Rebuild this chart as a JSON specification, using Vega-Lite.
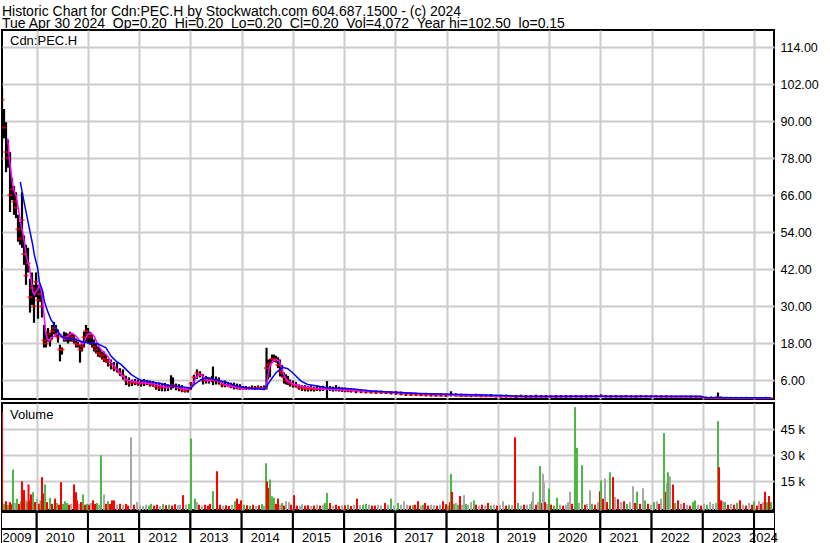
{
  "$schema": "https://vega.github.io/schema/vega-lite/v6.json",
  "background": "white",
  "padding": {"left": 1, "top": 4, "right": 0, "bottom": 0},
  "title": {
    "text": ["Historic Chart for Cdn:PEC.H by Stockwatch.com 604.687.1500 - (c) 2024", "Tue Apr 30 2024 \u00a0Op=0.20 \u00a0Hi=0.20 \u00a0Lo=0.20 \u00a0Cl=0.20 \u00a0Vol=4,072 \u00a0Year hi=102.50 \u00a0lo=0.15"],
    "anchor": "start", "fontSize": 14, "fontWeight": "normal", "lineHeight": 12.5, "offset": -2, "color": "#000", "dx": 1
  },
  "spacing": 2,
  "config": {
    "font": "Liberation Sans",
    "view": {"stroke": "#000", "strokeWidth": 2},
    "axis": {"gridColor": "#cccccc", "gridWidth": 2, "domain": false, "ticks": false, "labelColor": "#000", "labelFontSize": 12.5, "labelFont": "Liberation Sans", "labelOverlap": false}
  },
  "vconcat": [
    {
      "width": 772, "height": 369,
      "layer": [
        {
          "data": {"name": "price"},
          "mark": {"type": "rule", "color": "#000", "strokeWidth": 2.2, "clip": true},
          "encoding": {
            "x": {"field": "t", "type": "quantitative", "scale": {"domain": [2009.3225, 2024.389], "nice": false, "zero": false},
                  "axis": {"values": [2010,2011,2012,2013,2014,2015,2016,2017,2018,2019,2020,2021,2022,2023,2024], "grid": true, "labels": false, "title": null, "minExtent": 0, "maxExtent": 0}},
            "y": {"field": "l", "type": "quantitative", "scale": {"domain": [0, 119.6], "nice": false, "zero": false},
                  "axis": {"orient": "right", "values": [6,12,18,24,30,36,42,48,54,60,66,72,78,84,90,96,102,108,114], "format": ".2f", "grid": true, "labelPadding": 6, "title": null}},
            "y2": {"field": "h"}
          }
        },
        {
          "data": {"name": "price"},
          "mark": {"type": "tick", "orient": "horizontal", "color": "#ff0000", "thickness": 2, "size": 5, "clip": true},
          "encoding": {
            "x": {"field": "t", "type": "quantitative"},
            "y": {"field": "c", "type": "quantitative"}
          }
        },
        {
          "data": {"name": "maShort"},
          "mark": {"type": "line", "color": "#ff00ff", "strokeWidth": 1.5, "clip": true},
          "encoding": {
            "x": {"field": "t", "type": "quantitative"},
            "y": {"field": "v", "type": "quantitative"}
          }
        },
        {
          "data": {"name": "maLong"},
          "mark": {"type": "line", "color": "#0000ff", "strokeWidth": 1.5, "clip": true},
          "encoding": {
            "x": {"field": "t", "type": "quantitative"},
            "y": {"field": "v", "type": "quantitative"}
          }
        },
        {
          "data": {"values": [{"label": "Cdn:PEC.H"}]},
          "mark": {"type": "text", "align": "left", "baseline": "alphabetic", "fontSize": 13, "color": "#000", "dx": 8, "dy": 15},
          "encoding": {
            "x": {"datum": 2009.3225, "type": "quantitative"},
            "y": {"datum": 119.6, "type": "quantitative"},
            "text": {"field": "label"}
          }
        }
      ]
    },
    {
      "spacing": 0,
      "vconcat": [
        {
          "width": 772, "height": 107,
          "layer": [
            {
              "data": {"name": "vol"},
              "mark": {"type": "rule", "strokeWidth": 2, "clip": true},
              "encoding": {
                "x": {"field": "t", "type": "quantitative", "scale": {"domain": [2009.3225, 2024.389], "nice": false, "zero": false},
                      "axis": {"values": [2010,2011,2012,2013,2014,2015,2016,2017,2018,2019,2020,2021,2022,2023,2024], "grid": true, "labels": false, "title": null, "minExtent": 0, "maxExtent": 0}},
                "y": {"field": "v", "type": "quantitative", "scale": {"domain": [-1560, 60170], "nice": false, "zero": false},
                      "axis": {"orient": "right", "values": [15000, 30000, 45000], "labelExpr": "(datum.value/1000) + ' k'", "grid": true, "labelPadding": 6, "title": null, "labelFontSize": 13}},
                "y2": {"datum": -1560},
                "color": {"field": "c", "type": "nominal", "scale": {"domain": ["up", "dn", "un"], "range": ["#4cb848", "#ff0000", "#a8a8a8"]}, "legend": null}
              }
            },
            {
              "data": {"values": [{"label": "Volume"}]},
              "mark": {"type": "text", "align": "left", "baseline": "alphabetic", "fontSize": 13, "color": "#000", "dx": 8, "dy": 16},
              "encoding": {
                "x": {"datum": 2009.3225, "type": "quantitative"},
                "y": {"datum": 60170, "type": "quantitative"},
                "text": {"field": "label"}
              }
            }
          ]
        },
        {
          "width": 772, "height": 33,
          "data": {"name": "years"},
          "layer": [
            {
              "mark": {"type": "rect", "fill": "white", "stroke": "#000", "strokeWidth": 2, "clip": true},
              "encoding": {
                "x": {"field": "s", "type": "quantitative", "scale": {"domain": [2009.3225, 2024.389], "nice": false, "zero": false}, "axis": null},
                "x2": {"field": "e"},
                "y": {"datum": 16, "type": "quantitative", "scale": {"domain": [0, 33], "nice": false, "zero": false}, "axis": null},
                "y2": {"datum": 33}
              }
            },
            {
              "mark": {"type": "rect", "fill": "white", "stroke": "#000", "strokeWidth": 2, "clip": true},
              "encoding": {
                "x": {"field": "s", "type": "quantitative"},
                "x2": {"field": "e"},
                "y": {"datum": 0, "type": "quantitative"},
                "y2": {"datum": 16}
              }
            },
            {
              "mark": {"type": "text", "fontSize": 13, "color": "#000", "align": "center", "baseline": "middle"},
              "encoding": {
                "x": {"field": "m", "type": "quantitative"},
                "y": {"datum": 7.5, "type": "quantitative"},
                "text": {"field": "yr"}
              }
            }
          ]
        }
      ]
    }
  ],
  "datasets": {
    "years": [
      {"yr": "2009", "s": 2009, "e": 2010, "m": 2009.615},
      {"yr": "2010", "s": 2010, "e": 2011, "m": 2010.46},
      {"yr": "2011", "s": 2011, "e": 2012, "m": 2011.46},
      {"yr": "2012", "s": 2012, "e": 2013, "m": 2012.46},
      {"yr": "2013", "s": 2013, "e": 2014, "m": 2013.46},
      {"yr": "2014", "s": 2014, "e": 2015, "m": 2014.46},
      {"yr": "2015", "s": 2015, "e": 2016, "m": 2015.46},
      {"yr": "2016", "s": 2016, "e": 2017, "m": 2016.46},
      {"yr": "2017", "s": 2017, "e": 2018, "m": 2017.46},
      {"yr": "2018", "s": 2018, "e": 2019, "m": 2018.46},
      {"yr": "2019", "s": 2019, "e": 2020, "m": 2019.46},
      {"yr": "2020", "s": 2020, "e": 2021, "m": 2020.46},
      {"yr": "2021", "s": 2021, "e": 2022, "m": 2021.46},
      {"yr": "2022", "s": 2022, "e": 2023, "m": 2022.46},
      {"yr": "2023", "s": 2023, "e": 2024, "m": 2023.46},
      {"yr": "2024", "s": 2024, "e": 2025, "m": 2024.184}
    ],
    "price": [
      {"t":2009.323,"h":101,"l":83,"c":97},{"t":2009.362,"h":94,"l":84.5,"c":88},{"t":2009.401,"h":89.7,"l":73.5,"c":80},{"t":2009.440,"h":84,"l":75,"c":78},
      {"t":2009.479,"h":80,"l":60.6,"c":66},{"t":2009.518,"h":71.6,"l":64.5,"c":68},{"t":2009.557,"h":69,"l":59.7,"c":64},{"t":2009.596,"h":67,"l":58.6,"c":62},
      {"t":2009.635,"h":59.7,"l":51,"c":55},{"t":2009.674,"h":57.4,"l":50,"c":52},{"t":2009.713,"h":67,"l":49,"c":58},{"t":2009.752,"h":53,"l":43.5,"c":47},
      {"t":2009.791,"h":50,"l":37,"c":40},{"t":2009.830,"h":49,"l":41,"c":44},{"t":2009.869,"h":39,"l":28,"c":33},{"t":2009.908,"h":41,"l":30.5,"c":36},
      {"t":2009.947,"h":37,"l":24.7,"c":30},{"t":2009.986,"h":41,"l":33,"c":38},{"t":2010.025,"h":37,"l":26,"c":32},{"t":2010.064,"h":36,"l":31.5,"c":34},
      {"t":2010.103,"h":35,"l":26.4,"c":30},{"t":2010.142,"h":24,"l":16.7,"c":19},{"t":2010.181,"h":21.8,"l":16.7,"c":18},{"t":2010.220,"h":23,"l":18.6,"c":21},
      {"t":2010.259,"h":21.5,"l":17,"c":19},{"t":2010.298,"h":24,"l":19.3,"c":22},{"t":2010.337,"h":25,"l":21,"c":23},{"t":2010.376,"h":24,"l":20.2,"c":21},
      {"t":2010.415,"h":22.5,"l":18.3,"c":20},{"t":2010.454,"h":17.6,"l":12.2,"c":16},{"t":2010.493,"h":16.7,"l":14.4,"c":16},{"t":2010.532,"h":21.8,"l":18.6,"c":20},
      {"t":2010.571,"h":21.5,"l":18.6,"c":20},{"t":2010.611,"h":21.2,"l":18,"c":19.5},{"t":2010.650,"h":21.8,"l":18.6,"c":21},{"t":2010.689,"h":21.2,"l":18.6,"c":20},
      {"t":2010.728,"h":20.9,"l":18,"c":19},{"t":2010.767,"h":19.6,"l":16.7,"c":18},{"t":2010.806,"h":18.6,"l":16.7,"c":17.5},{"t":2010.845,"h":17.6,"l":11.8,"c":16},
      {"t":2010.884,"h":18.6,"l":15.4,"c":17},{"t":2010.923,"h":21.8,"l":16.7,"c":20},{"t":2010.962,"h":24,"l":18.6,"c":22},{"t":2011.001,"h":23,"l":18,"c":21},
      {"t":2011.040,"h":21.8,"l":17.6,"c":20},{"t":2011.079,"h":21,"l":16.7,"c":18},{"t":2011.118,"h":19.3,"l":15.4,"c":17},{"t":2011.157,"h":18,"l":14.8,"c":16},
      {"t":2011.196,"h":17,"l":13.7,"c":15},{"t":2011.235,"h":16.5,"l":13.5,"c":14.5},{"t":2011.274,"h":15.4,"l":12.8,"c":14},{"t":2011.313,"h":15.4,"l":12,"c":13},
      {"t":2011.352,"h":14.4,"l":11.8,"c":12.5},{"t":2011.391,"h":13,"l":10.5,"c":12},{"t":2011.450,"h":12.8,"l":9.6,"c":11},{"t":2011.508,"h":12,"l":9,"c":10},
      {"t":2011.567,"h":11.8,"l":8.6,"c":9.5},{"t":2011.625,"h":10,"l":7.5,"c":8.5},{"t":2011.684,"h":9.6,"l":6.3,"c":7.5},{"t":2011.743,"h":7.5,"l":4.5,"c":6},
      {"t":2011.801,"h":7,"l":4,"c":5},{"t":2011.860,"h":6.3,"l":4.2,"c":5.5},{"t":2011.918,"h":6.5,"l":4.5,"c":5.2},{"t":2011.977,"h":6.3,"l":4.3,"c":5},
      {"t":2012.035,"h":6,"l":4,"c":5},{"t":2012.094,"h":6.5,"l":4.2,"c":5.5},{"t":2012.152,"h":6.2,"l":4.5,"c":5},{"t":2012.211,"h":6,"l":4,"c":4.8},
      {"t":2012.269,"h":5.8,"l":4,"c":4.6},{"t":2012.328,"h":5.3,"l":3,"c":4},{"t":2012.387,"h":5.3,"l":2.6,"c":3.5},{"t":2012.445,"h":5,"l":2.5,"c":3.8},
      {"t":2012.504,"h":5.2,"l":2.5,"c":4},{"t":2012.562,"h":4.8,"l":2.6,"c":3.8},{"t":2012.621,"h":7.7,"l":3,"c":4.2},{"t":2012.660,"h":7,"l":3.5,"c":4.5},
      {"t":2012.718,"h":5,"l":2.8,"c":4},{"t":2012.777,"h":4.8,"l":2.5,"c":3.5},{"t":2012.835,"h":4.5,"l":2.2,"c":3},{"t":2012.894,"h":3.5,"l":2.1,"c":2.6},
      {"t":2012.952,"h":3.8,"l":2.1,"c":3},{"t":2013.011,"h":5.5,"l":3,"c":5},{"t":2013.069,"h":7.9,"l":5,"c":7},{"t":2013.128,"h":9.6,"l":6.5,"c":8.5},
      {"t":2013.187,"h":9,"l":7,"c":8},{"t":2013.245,"h":8,"l":4.7,"c":6},{"t":2013.304,"h":7.5,"l":5,"c":6},{"t":2013.362,"h":7,"l":5,"c":6.5},
      {"t":2013.421,"h":7.5,"l":5.5,"c":6.3},{"t":2013.440,"h":10.5,"l":4.5,"c":6},{"t":2013.499,"h":7.3,"l":4.7,"c":6},{"t":2013.557,"h":7,"l":4.7,"c":5.5},
      {"t":2013.616,"h":5.7,"l":3.8,"c":4.7},{"t":2013.675,"h":6,"l":3.8,"c":4.5},{"t":2013.733,"h":5.5,"l":4,"c":4.5},{"t":2013.792,"h":5.3,"l":3.5,"c":4},
      {"t":2013.850,"h":5.3,"l":3.1,"c":4},{"t":2013.909,"h":5,"l":3.1,"c":3.6},{"t":2013.967,"h":4.8,"l":3,"c":3.5},{"t":2014.026,"h":4.2,"l":3.1,"c":3.4},
      {"t":2014.084,"h":4.2,"l":3,"c":3.5},{"t":2014.143,"h":4,"l":3.1,"c":3.5},{"t":2014.201,"h":4.4,"l":3,"c":3.6},{"t":2014.260,"h":4.2,"l":2.9,"c":3.5},
      {"t":2014.318,"h":4.4,"l":3.1,"c":3.6},{"t":2014.377,"h":4.2,"l":3,"c":3.5},{"t":2014.436,"h":4.4,"l":2.9,"c":3.4},{"t":2014.485,"h":16.6,"l":3.1,"c":10},
      {"t":2014.514,"h":12.8,"l":6.3,"c":11},{"t":2014.553,"h":13,"l":7,"c":11.5},{"t":2014.592,"h":14.4,"l":11.8,"c":13},{"t":2014.631,"h":14.4,"l":12,"c":13},
      {"t":2014.670,"h":14,"l":11.8,"c":12.5},{"t":2014.709,"h":13.5,"l":10,"c":11},{"t":2014.748,"h":12.8,"l":7.3,"c":9},{"t":2014.787,"h":11,"l":7,"c":8.5},
      {"t":2014.826,"h":8.6,"l":5,"c":7},{"t":2014.865,"h":8,"l":4.7,"c":6},{"t":2014.904,"h":7.5,"l":4.5,"c":5.5},{"t":2014.943,"h":6.3,"l":4,"c":5},
      {"t":2015.002,"h":6,"l":3.7,"c":4.5},{"t":2015.060,"h":5.5,"l":3.7,"c":4.3},{"t":2015.119,"h":4.7,"l":3,"c":3.6},{"t":2015.177,"h":4.5,"l":2.6,"c":3.5},
      {"t":2015.236,"h":4.5,"l":2.5,"c":3.3},{"t":2015.294,"h":4.2,"l":2.4,"c":3.2},{"t":2015.353,"h":4.3,"l":2.5,"c":3.3},{"t":2015.411,"h":4,"l":2.4,"c":3.1},
      {"t":2015.470,"h":4.2,"l":2.6,"c":3.3},{"t":2015.529,"h":4,"l":2.5,"c":3.2},{"t":2015.587,"h":4.3,"l":2.6,"c":3.4},{"t":2015.665,"h":5.8,"l":0.2,"c":3.4},
      {"t":2015.724,"h":4.2,"l":2.6,"c":3.3},{"t":2015.782,"h":4,"l":2.4,"c":3.2},{"t":2015.841,"h":4.5,"l":2.5,"c":3},{"t":2015.899,"h":4,"l":2.4,"c":3},
      {"t":2015.958,"h":3.8,"l":2.3,"c":2.9},{"t":2016.016,"h":3.7,"l":2.2,"c":2.8},{"t":2016.075,"h":3.6,"l":2.2,"c":2.8},{"t":2016.134,"h":3.3,"l":2.1,"c":2.6},
      {"t":2016.231,"h":3.1,"l":1.9,"c":2.5},{"t":2016.329,"h":3,"l":1.9,"c":2.4},{"t":2016.426,"h":3,"l":1.8,"c":2.3},{"t":2016.524,"h":2.8,"l":1.8,"c":2.2},
      {"t":2016.622,"h":2.8,"l":1.7,"c":2.1},{"t":2016.719,"h":2.7,"l":1.7,"c":2.1},{"t":2016.817,"h":2.6,"l":1.6,"c":2},{"t":2016.914,"h":2.5,"l":1.5,"c":1.9},
      {"t":2017.012,"h":2.6,"l":1.4,"c":1.8},{"t":2017.109,"h":2.4,"l":1.2,"c":1.6},{"t":2017.207,"h":2.2,"l":1,"c":1.5},{"t":2017.305,"h":2.1,"l":1,"c":1.4},
      {"t":2017.402,"h":2,"l":1,"c":1.4},{"t":2017.500,"h":1.9,"l":0.9,"c":1.3},{"t":2017.597,"h":2,"l":0.9,"c":1.2},{"t":2017.695,"h":1.8,"l":0.8,"c":1.2},
      {"t":2017.792,"h":1.7,"l":0.8,"c":1.1},{"t":2017.890,"h":1.8,"l":0.8,"c":1.1},{"t":2017.988,"h":1.7,"l":0.7,"c":1.1},{"t":2018.085,"h":2.5,"l":0.8,"c":1.3},
      {"t":2018.183,"h":1.8,"l":0.8,"c":1.1},{"t":2018.280,"h":1.7,"l":0.7,"c":1},{"t":2018.378,"h":1.6,"l":0.7,"c":1},{"t":2018.476,"h":1.6,"l":0.6,"c":1},
      {"t":2018.573,"h":1.7,"l":0.7,"c":1},{"t":2018.671,"h":1.5,"l":0.6,"c":0.9},{"t":2018.768,"h":1.5,"l":0.6,"c":0.9},{"t":2018.866,"h":1.6,"l":0.6,"c":0.9},
      {"t":2018.963,"h":1.4,"l":0.5,"c":0.9},{"t":2019.061,"h":1.4,"l":0.5,"c":0.8},{"t":2019.159,"h":1.4,"l":0.5,"c":0.8},{"t":2019.256,"h":1.3,"l":0.5,"c":0.8},
      {"t":2019.354,"h":1.3,"l":0.4,"c":0.7},{"t":2019.451,"h":1.4,"l":0.5,"c":0.8},{"t":2019.549,"h":1.3,"l":0.3,"c":0.6},{"t":2019.646,"h":1.3,"l":0.4,"c":0.6},
      {"t":2019.744,"h":1.4,"l":0.4,"c":0.7},{"t":2019.842,"h":1.3,"l":0.4,"c":0.6},{"t":2019.939,"h":1.3,"l":0.4,"c":0.7},{"t":2020.037,"h":1.2,"l":0.3,"c":0.6},
      {"t":2020.134,"h":1.3,"l":0.3,"c":0.6},{"t":2020.232,"h":1.3,"l":0.4,"c":0.7},{"t":2020.329,"h":1.3,"l":0.4,"c":0.7},{"t":2020.427,"h":1.3,"l":0.4,"c":0.7},
      {"t":2020.525,"h":1.3,"l":0.5,"c":0.8},{"t":2020.622,"h":1.2,"l":0.4,"c":0.7},{"t":2020.720,"h":1.3,"l":0.4,"c":0.7},{"t":2020.817,"h":1.3,"l":0.5,"c":0.8},
      {"t":2020.915,"h":1.3,"l":0.5,"c":0.8},{"t":2021.013,"h":1.5,"l":0.6,"c":0.9},{"t":2021.110,"h":1.3,"l":0.5,"c":0.8},{"t":2021.208,"h":1.3,"l":0.4,"c":0.7},
      {"t":2021.305,"h":1.3,"l":0.5,"c":0.8},{"t":2021.403,"h":1.2,"l":0.4,"c":0.7},{"t":2021.500,"h":1.3,"l":0.5,"c":0.8},{"t":2021.598,"h":1.2,"l":0.4,"c":0.7},
      {"t":2021.696,"h":1.2,"l":0.4,"c":0.7},{"t":2021.793,"h":1.3,"l":0.5,"c":0.8},{"t":2021.891,"h":1.2,"l":0.5,"c":0.8},{"t":2021.988,"h":1.2,"l":0.5,"c":0.8},
      {"t":2022.086,"h":1.2,"l":0.5,"c":0.8},{"t":2022.184,"h":1.2,"l":0.4,"c":0.7},{"t":2022.281,"h":1.2,"l":0.4,"c":0.7},{"t":2022.379,"h":1.1,"l":0.4,"c":0.7},
      {"t":2022.476,"h":1.1,"l":0.4,"c":0.7},{"t":2022.574,"h":1.1,"l":0.4,"c":0.7},{"t":2022.671,"h":1.1,"l":0.4,"c":0.7},{"t":2022.769,"h":1.1,"l":0.4,"c":0.7},
      {"t":2022.867,"h":1.1,"l":0.4,"c":0.6},{"t":2022.964,"h":1,"l":0.3,"c":0.6},{"t":2023.062,"h":0.8,"l":0.2,"c":0.4},{"t":2023.159,"h":0.8,"l":0.2,"c":0.4},
      {"t":2023.257,"h":0.8,"l":0.2,"c":0.4},{"t":2023.296,"h":2.1,"l":0.2,"c":0.5},{"t":2023.355,"h":0.8,"l":0.2,"c":0.4},{"t":2023.452,"h":0.7,"l":0.2,"c":0.4},
      {"t":2023.550,"h":0.7,"l":0.2,"c":0.3},{"t":2023.647,"h":0.7,"l":0.2,"c":0.3},{"t":2023.745,"h":0.7,"l":0.1,"c":0.3},{"t":2023.842,"h":0.7,"l":0.1,"c":0.3},
      {"t":2023.940,"h":0.6,"l":0.1,"c":0.3},{"t":2024.038,"h":0.6,"l":0.1,"c":0.3},{"t":2024.135,"h":0.6,"l":0.1,"c":0.25},{"t":2024.233,"h":0.7,"l":0.1,"c":0.3},
      {"t":2024.330,"h":0.3,"l":0.15,"c":0.2}
    ],
    "maShort": [
      {"t":2009.434,"v":84.5},{"t":2009.465,"v":78},{"t":2009.498,"v":73.7},{"t":2009.531,"v":69.4},{"t":2009.563,"v":67.2},{"t":2009.596,"v":66.1},
      {"t":2009.629,"v":62.9},{"t":2009.660,"v":59.7},{"t":2009.693,"v":56.5},{"t":2009.727,"v":53.8},{"t":2009.758,"v":51},{"t":2009.791,"v":46.7},
      {"t":2009.824,"v":44.6},{"t":2009.855,"v":43},{"t":2009.888,"v":39.2},{"t":2009.922,"v":34.9},{"t":2009.953,"v":33.8},{"t":2009.986,"v":34.9},
      {"t":2010.019,"v":35.4},{"t":2010.050,"v":37.1},{"t":2010.084,"v":35.4},{"t":2010.117,"v":31.7},{"t":2010.148,"v":26.3},{"t":2010.181,"v":20.9},
      {"t":2010.214,"v":19.3},{"t":2010.246,"v":18.9},{"t":2010.279,"v":19.8},{"t":2010.343,"v":20.3},{"t":2010.410,"v":21.4},{"t":2010.474,"v":20.9},
      {"t":2010.538,"v":19.3},{"t":2010.605,"v":20.3},{"t":2010.669,"v":21.4},{"t":2010.734,"v":20.9},{"t":2010.800,"v":19.8},{"t":2010.864,"v":18.2},
      {"t":2010.897,"v":17.7},{"t":2010.929,"v":18.7},{"t":2010.995,"v":20.9},{"t":2011.059,"v":21.4},{"t":2011.124,"v":20.3},{"t":2011.190,"v":17.7},
      {"t":2011.255,"v":16},{"t":2011.319,"v":15},{"t":2011.385,"v":13.9},{"t":2011.450,"v":12},{"t":2011.547,"v":10},{"t":2011.645,"v":8},
      {"t":2011.743,"v":6.3},{"t":2011.840,"v":5.8},{"t":2012.035,"v":5.3},{"t":2012.230,"v":5},{"t":2012.328,"v":4.7},{"t":2012.426,"v":4.2},
      {"t":2012.556,"v":3.6},{"t":2012.621,"v":4.2},{"t":2012.718,"v":4},{"t":2012.816,"v":3.5},{"t":2012.913,"v":3.1},{"t":2012.978,"v":3.3},
      {"t":2013.044,"v":4.7},{"t":2013.109,"v":6.9},{"t":2013.173,"v":8},{"t":2013.239,"v":7.4},{"t":2013.337,"v":5.8},{"t":2013.435,"v":6.3},
      {"t":2013.532,"v":6.1},{"t":2013.661,"v":4.7},{"t":2013.856,"v":4},{"t":2014.051,"v":3.3},{"t":2014.246,"v":3.3},{"t":2014.436,"v":3.5},
      {"t":2014.475,"v":3.6},{"t":2014.539,"v":10.1},{"t":2014.605,"v":12.3},{"t":2014.670,"v":12.8},{"t":2014.734,"v":12.3},{"t":2014.801,"v":9},
      {"t":2014.832,"v":7.4},{"t":2014.898,"v":5.8},{"t":2015.027,"v":4.7},{"t":2015.222,"v":4},{"t":2015.484,"v":3.3},{"t":2015.808,"v":3.1},
      {"t":2016.134,"v":2.8},{"t":2016.973,"v":2.2},{"t":2018.085,"v":1.4},{"t":2019.451,"v":0.8},{"t":2021.013,"v":0.8},{"t":2022.964,"v":0.7},
      {"t":2023.062,"v":0.4},{"t":2024.330,"v":0.25}
    ],
    "maLong": [
      {"t":2009.680,"v":70.4},{"t":2009.727,"v":66.1},{"t":2009.791,"v":60.7},{"t":2009.855,"v":55.4},{"t":2009.922,"v":50},{"t":2009.953,"v":46.7},
      {"t":2010.019,"v":42.4},{"t":2010.050,"v":38.1},{"t":2010.117,"v":34.9},{"t":2010.148,"v":31.7},{"t":2010.214,"v":28.4},{"t":2010.279,"v":25.7},
      {"t":2010.343,"v":24.1},{"t":2010.410,"v":22},{"t":2010.474,"v":20.3},{"t":2010.538,"v":19.8},{"t":2010.605,"v":19.8},{"t":2010.734,"v":19.3},
      {"t":2010.864,"v":18.7},{"t":2010.995,"v":18.2},{"t":2011.190,"v":17.9},{"t":2011.255,"v":17.4},{"t":2011.352,"v":16.6},{"t":2011.450,"v":13.9},
      {"t":2011.547,"v":12.3},{"t":2011.645,"v":11.2},{"t":2011.743,"v":9.6},{"t":2011.840,"v":8},{"t":2011.938,"v":6.9},{"t":2012.035,"v":6.1},
      {"t":2012.230,"v":5.5},{"t":2012.426,"v":5},{"t":2012.556,"v":4.4},{"t":2012.816,"v":4},{"t":2013.011,"v":3.6},{"t":2013.075,"v":4.7},
      {"t":2013.206,"v":6.3},{"t":2013.337,"v":6.9},{"t":2013.466,"v":6.3},{"t":2013.596,"v":5.8},{"t":2013.727,"v":5.3},{"t":2013.856,"v":4.4},
      {"t":2014.118,"v":3.6},{"t":2014.313,"v":3.3},{"t":2014.442,"v":3.1},{"t":2014.508,"v":4.7},{"t":2014.572,"v":6.3},{"t":2014.670,"v":8.5},
      {"t":2014.801,"v":10.3},{"t":2014.898,"v":9.8},{"t":2014.996,"v":8.5},{"t":2015.093,"v":6.9},{"t":2015.158,"v":5.8},{"t":2015.288,"v":4.7},
      {"t":2015.484,"v":4.2},{"t":2015.679,"v":3.6},{"t":2016.134,"v":3.3},{"t":2016.524,"v":2.6},{"t":2016.979,"v":2.2},{"t":2017.435,"v":1.8},
      {"t":2018.085,"v":1.5},{"t":2018.735,"v":1.3},{"t":2019.451,"v":0.9},{"t":2021.013,"v":0.9},{"t":2022.964,"v":0.9},{"t":2023.023,"v":0.5},
      {"t":2024.330,"v":0.4}
    ],
    "vol": [
      {"t":2009.323,"v":55000,"c":"dn"},{"t":2009.362,"v":2000,"c":"up"},{"t":2009.401,"v":3500,"c":"dn"},{"t":2009.440,"v":1500,"c":"up"},
      {"t":2009.479,"v":3000,"c":"dn"},{"t":2009.518,"v":1800,"c":"dn"},{"t":2009.537,"v":21800,"c":"up"},{"t":2009.576,"v":2500,"c":"un"},
      {"t":2009.615,"v":5000,"c":"up"},{"t":2009.654,"v":2000,"c":"dn"},{"t":2009.693,"v":3500,"c":"up"},{"t":2009.713,"v":15000,"c":"dn"},
      {"t":2009.752,"v":10000,"c":"dn"},{"t":2009.791,"v":4000,"c":"un"},{"t":2009.810,"v":3000,"c":"up"},{"t":2009.840,"v":13200,"c":"dn"},
      {"t":2009.869,"v":4000,"c":"dn"},{"t":2009.888,"v":7400,"c":"dn"},{"t":2009.927,"v":8700,"c":"up"},{"t":2009.967,"v":3000,"c":"dn"},
      {"t":2010.006,"v":5000,"c":"un"},{"t":2010.045,"v":2000,"c":"dn"},{"t":2010.074,"v":4000,"c":"up"},{"t":2010.103,"v":17400,"c":"dn"},
      {"t":2010.132,"v":8000,"c":"dn"},{"t":2010.162,"v":13200,"c":"up"},{"t":2010.201,"v":3000,"c":"dn"},{"t":2010.259,"v":5400,"c":"up"},
      {"t":2010.298,"v":2000,"c":"dn"},{"t":2010.357,"v":5000,"c":"dn"},{"t":2010.396,"v":2500,"c":"up"},{"t":2010.435,"v":1500,"c":"dn"},
      {"t":2010.474,"v":14500,"c":"dn"},{"t":2010.513,"v":2000,"c":"up"},{"t":2010.552,"v":3500,"c":"up"},{"t":2010.591,"v":2500,"c":"up"},
      {"t":2010.630,"v":1500,"c":"dn"},{"t":2010.669,"v":2000,"c":"un"},{"t":2010.728,"v":13200,"c":"dn"},{"t":2010.767,"v":8700,"c":"dn"},
      {"t":2010.786,"v":4000,"c":"dn"},{"t":2010.825,"v":2000,"c":"un"},{"t":2010.864,"v":3000,"c":"dn"},{"t":2010.903,"v":7400,"c":"up"},
      {"t":2010.942,"v":1500,"c":"dn"},{"t":2010.981,"v":2000,"c":"up"},{"t":2011.020,"v":1500,"c":"dn"},{"t":2011.059,"v":2500,"c":"un"},
      {"t":2011.098,"v":4000,"c":"dn"},{"t":2011.138,"v":2000,"c":"dn"},{"t":2011.177,"v":2500,"c":"up"},{"t":2011.216,"v":1500,"c":"un"},
      {"t":2011.255,"v":30000,"c":"up"},{"t":2011.313,"v":7400,"c":"un"},{"t":2011.352,"v":2000,"c":"dn"},{"t":2011.391,"v":3500,"c":"up"},
      {"t":2011.430,"v":2000,"c":"dn"},{"t":2011.469,"v":4000,"c":"dn"},{"t":2011.508,"v":4000,"c":"dn"},{"t":2011.567,"v":1500,"c":"un"},
      {"t":2011.625,"v":2000,"c":"dn"},{"t":2011.684,"v":1500,"c":"un"},{"t":2011.743,"v":2000,"c":"dn"},{"t":2011.782,"v":1000,"c":"dn"},
      {"t":2011.840,"v":40400,"c":"un"},{"t":2011.899,"v":1500,"c":"dn"},{"t":2011.957,"v":3000,"c":"un"},{"t":2012.016,"v":1200,"c":"un"},
      {"t":2012.074,"v":800,"c":"un"},{"t":2012.133,"v":1500,"c":"un"},{"t":2012.191,"v":1000,"c":"up"},{"t":2012.230,"v":2000,"c":"up"},
      {"t":2012.289,"v":1000,"c":"dn"},{"t":2012.347,"v":1500,"c":"dn"},{"t":2012.406,"v":800,"c":"un"},{"t":2012.465,"v":1800,"c":"up"},
      {"t":2012.523,"v":1200,"c":"dn"},{"t":2012.582,"v":1500,"c":"up"},{"t":2012.640,"v":1000,"c":"dn"},{"t":2012.699,"v":1800,"c":"dn"},
      {"t":2012.757,"v":1200,"c":"un"},{"t":2012.796,"v":1500,"c":"un"},{"t":2012.855,"v":7000,"c":"dn"},{"t":2012.913,"v":1500,"c":"un"},
      {"t":2012.972,"v":2000,"c":"up"},{"t":2013.011,"v":39700,"c":"up"},{"t":2013.089,"v":5000,"c":"up"},{"t":2013.128,"v":3000,"c":"un"},
      {"t":2013.167,"v":1500,"c":"dn"},{"t":2013.226,"v":1000,"c":"un"},{"t":2013.284,"v":1500,"c":"dn"},{"t":2013.343,"v":1000,"c":"dn"},
      {"t":2013.382,"v":2000,"c":"dn"},{"t":2013.440,"v":9300,"c":"up"},{"t":2013.518,"v":20800,"c":"dn"},{"t":2013.577,"v":1500,"c":"dn"},
      {"t":2013.636,"v":1000,"c":"un"},{"t":2013.694,"v":1200,"c":"dn"},{"t":2013.753,"v":800,"c":"dn"},{"t":2013.811,"v":1500,"c":"un"},
      {"t":2013.870,"v":3500,"c":"up"},{"t":2013.909,"v":5000,"c":"dn"},{"t":2013.948,"v":2000,"c":"dn"},{"t":2013.987,"v":4000,"c":"dn"},
      {"t":2014.045,"v":1500,"c":"up"},{"t":2014.104,"v":1200,"c":"dn"},{"t":2014.162,"v":1000,"c":"up"},{"t":2014.221,"v":1500,"c":"dn"},
      {"t":2014.280,"v":1000,"c":"un"},{"t":2014.338,"v":1200,"c":"dn"},{"t":2014.397,"v":1800,"c":"up"},{"t":2014.436,"v":1000,"c":"un"},
      {"t":2014.475,"v":25400,"c":"up"},{"t":2014.494,"v":15000,"c":"dn"},{"t":2014.514,"v":11200,"c":"dn"},{"t":2014.553,"v":16000,"c":"up"},
      {"t":2014.592,"v":6400,"c":"up"},{"t":2014.631,"v":5500,"c":"up"},{"t":2014.670,"v":2000,"c":"dn"},{"t":2014.709,"v":5000,"c":"dn"},
      {"t":2014.748,"v":1500,"c":"un"},{"t":2014.787,"v":2500,"c":"up"},{"t":2014.826,"v":1000,"c":"dn"},{"t":2014.865,"v":3500,"c":"un"},
      {"t":2014.924,"v":3000,"c":"un"},{"t":2014.963,"v":1500,"c":"dn"},{"t":2015.021,"v":7000,"c":"dn"},{"t":2015.080,"v":1000,"c":"dn"},
      {"t":2015.138,"v":800,"c":"un"},{"t":2015.177,"v":1800,"c":"un"},{"t":2015.236,"v":1000,"c":"dn"},{"t":2015.294,"v":1200,"c":"dn"},
      {"t":2015.353,"v":800,"c":"un"},{"t":2015.411,"v":1000,"c":"dn"},{"t":2015.470,"v":1500,"c":"un"},{"t":2015.529,"v":1000,"c":"dn"},
      {"t":2015.587,"v":1500,"c":"un"},{"t":2015.626,"v":2500,"c":"up"},{"t":2015.665,"v":8300,"c":"up"},{"t":2015.724,"v":2500,"c":"dn"},
      {"t":2015.782,"v":1000,"c":"un"},{"t":2015.841,"v":1500,"c":"dn"},{"t":2015.899,"v":800,"c":"dn"},{"t":2015.958,"v":1000,"c":"un"},
      {"t":2016.016,"v":1200,"c":"dn"},{"t":2016.075,"v":1500,"c":"up"},{"t":2016.134,"v":800,"c":"dn"},{"t":2016.192,"v":1500,"c":"un"},
      {"t":2016.251,"v":5000,"c":"dn"},{"t":2016.309,"v":1200,"c":"un"},{"t":2016.368,"v":1500,"c":"up"},{"t":2016.426,"v":2000,"c":"up"},
      {"t":2016.485,"v":1500,"c":"un"},{"t":2016.543,"v":1000,"c":"dn"},{"t":2016.602,"v":1000,"c":"dn"},{"t":2016.660,"v":1500,"c":"un"},
      {"t":2016.719,"v":1200,"c":"un"},{"t":2016.797,"v":2500,"c":"dn"},{"t":2016.856,"v":1500,"c":"un"},{"t":2016.914,"v":5000,"c":"up"},
      {"t":2016.973,"v":1000,"c":"un"},{"t":2017.051,"v":2500,"c":"up"},{"t":2017.109,"v":1500,"c":"un"},{"t":2017.168,"v":3500,"c":"un"},
      {"t":2017.226,"v":1500,"c":"un"},{"t":2017.285,"v":1000,"c":"dn"},{"t":2017.344,"v":1200,"c":"up"},{"t":2017.383,"v":1500,"c":"dn"},
      {"t":2017.441,"v":3500,"c":"dn"},{"t":2017.500,"v":1000,"c":"un"},{"t":2017.539,"v":1500,"c":"up"},{"t":2017.578,"v":2500,"c":"dn"},
      {"t":2017.636,"v":1000,"c":"dn"},{"t":2017.695,"v":1500,"c":"un"},{"t":2017.753,"v":1200,"c":"un"},{"t":2017.812,"v":1000,"c":"dn"},
      {"t":2017.870,"v":1500,"c":"un"},{"t":2017.929,"v":3500,"c":"dn"},{"t":2017.988,"v":1800,"c":"dn"},{"t":2018.027,"v":1000,"c":"up"},
      {"t":2018.066,"v":3000,"c":"dn"},{"t":2018.085,"v":19300,"c":"up"},{"t":2018.105,"v":8900,"c":"dn"},{"t":2018.144,"v":2000,"c":"up"},
      {"t":2018.183,"v":2500,"c":"un"},{"t":2018.222,"v":1500,"c":"up"},{"t":2018.261,"v":6500,"c":"dn"},{"t":2018.300,"v":1500,"c":"un"},
      {"t":2018.339,"v":7000,"c":"un"},{"t":2018.378,"v":2000,"c":"up"},{"t":2018.417,"v":1500,"c":"un"},{"t":2018.476,"v":3000,"c":"un"},
      {"t":2018.534,"v":4000,"c":"up"},{"t":2018.573,"v":1500,"c":"dn"},{"t":2018.632,"v":1000,"c":"un"},{"t":2018.690,"v":1500,"c":"dn"},
      {"t":2018.749,"v":1000,"c":"un"},{"t":2018.807,"v":2500,"c":"dn"},{"t":2018.866,"v":1000,"c":"up"},{"t":2018.924,"v":1500,"c":"un"},
      {"t":2018.983,"v":1000,"c":"dn"},{"t":2019.041,"v":1200,"c":"un"},{"t":2019.100,"v":3500,"c":"un"},{"t":2019.159,"v":1000,"c":"dn"},
      {"t":2019.217,"v":1500,"c":"up"},{"t":2019.276,"v":1200,"c":"un"},{"t":2019.334,"v":40400,"c":"dn"},{"t":2019.393,"v":2500,"c":"up"},
      {"t":2019.451,"v":1000,"c":"un"},{"t":2019.510,"v":1500,"c":"dn"},{"t":2019.568,"v":1500,"c":"un"},{"t":2019.627,"v":2000,"c":"un"},
      {"t":2019.666,"v":3500,"c":"up"},{"t":2019.685,"v":8900,"c":"un"},{"t":2019.744,"v":1500,"c":"dn"},{"t":2019.783,"v":3000,"c":"un"},
      {"t":2019.822,"v":23800,"c":"up"},{"t":2019.861,"v":2500,"c":"dn"},{"t":2019.881,"v":19300,"c":"un"},{"t":2019.900,"v":14400,"c":"un"},
      {"t":2019.920,"v":3000,"c":"dn"},{"t":2019.959,"v":2000,"c":"un"},{"t":2019.998,"v":10800,"c":"up"},{"t":2020.037,"v":1500,"c":"dn"},
      {"t":2020.095,"v":1000,"c":"up"},{"t":2020.154,"v":5500,"c":"up"},{"t":2020.212,"v":1500,"c":"un"},{"t":2020.271,"v":1000,"c":"dn"},
      {"t":2020.329,"v":1500,"c":"un"},{"t":2020.369,"v":3000,"c":"un"},{"t":2020.408,"v":9000,"c":"un"},{"t":2020.447,"v":2000,"c":"dn"},
      {"t":2020.505,"v":57800,"c":"up"},{"t":2020.544,"v":34300,"c":"up"},{"t":2020.583,"v":2500,"c":"un"},{"t":2020.642,"v":24300,"c":"up"},
      {"t":2020.700,"v":1500,"c":"dn"},{"t":2020.739,"v":2000,"c":"un"},{"t":2020.798,"v":9800,"c":"un"},{"t":2020.837,"v":2000,"c":"up"},
      {"t":2020.896,"v":1500,"c":"dn"},{"t":2020.954,"v":3000,"c":"un"},{"t":2020.993,"v":9200,"c":"dn"},{"t":2021.013,"v":15500,"c":"up"},
      {"t":2021.052,"v":5000,"c":"dn"},{"t":2021.091,"v":16600,"c":"un"},{"t":2021.130,"v":3000,"c":"dn"},{"t":2021.188,"v":20200,"c":"up"},
      {"t":2021.247,"v":17400,"c":"dn"},{"t":2021.286,"v":6000,"c":"un"},{"t":2021.344,"v":4700,"c":"dn"},{"t":2021.403,"v":3000,"c":"un"},
      {"t":2021.462,"v":3500,"c":"dn"},{"t":2021.520,"v":2000,"c":"up"},{"t":2021.579,"v":3000,"c":"un"},{"t":2021.637,"v":12200,"c":"un"},
      {"t":2021.676,"v":2500,"c":"dn"},{"t":2021.715,"v":9000,"c":"up"},{"t":2021.774,"v":2000,"c":"dn"},{"t":2021.832,"v":11000,"c":"un"},
      {"t":2021.871,"v":4000,"c":"up"},{"t":2021.930,"v":2000,"c":"dn"},{"t":2021.988,"v":1500,"c":"un"},{"t":2022.047,"v":3000,"c":"up"},
      {"t":2022.105,"v":3500,"c":"un"},{"t":2022.145,"v":2000,"c":"dn"},{"t":2022.184,"v":5000,"c":"un"},{"t":2022.242,"v":42800,"c":"up"},
      {"t":2022.281,"v":9000,"c":"dn"},{"t":2022.301,"v":14000,"c":"un"},{"t":2022.320,"v":20200,"c":"up"},{"t":2022.359,"v":17900,"c":"un"},
      {"t":2022.418,"v":13100,"c":"dn"},{"t":2022.457,"v":2500,"c":"up"},{"t":2022.515,"v":4000,"c":"dn"},{"t":2022.574,"v":2000,"c":"un"},
      {"t":2022.632,"v":2500,"c":"dn"},{"t":2022.691,"v":1500,"c":"un"},{"t":2022.749,"v":1000,"c":"dn"},{"t":2022.808,"v":3000,"c":"up"},
      {"t":2022.847,"v":4000,"c":"up"},{"t":2022.906,"v":1500,"c":"un"},{"t":2022.964,"v":1000,"c":"dn"},{"t":2023.023,"v":2000,"c":"un"},
      {"t":2023.081,"v":1500,"c":"up"},{"t":2023.140,"v":3000,"c":"un"},{"t":2023.199,"v":2000,"c":"un"},{"t":2023.257,"v":2500,"c":"un"},
      {"t":2023.296,"v":49700,"c":"up"},{"t":2023.316,"v":23100,"c":"dn"},{"t":2023.355,"v":4000,"c":"dn"},{"t":2023.394,"v":3500,"c":"un"},
      {"t":2023.433,"v":3000,"c":"up"},{"t":2023.491,"v":1500,"c":"dn"},{"t":2023.550,"v":2000,"c":"un"},{"t":2023.608,"v":1500,"c":"dn"},
      {"t":2023.667,"v":2500,"c":"up"},{"t":2023.725,"v":4000,"c":"dn"},{"t":2023.784,"v":1500,"c":"un"},{"t":2023.842,"v":1000,"c":"dn"},
      {"t":2023.901,"v":2500,"c":"un"},{"t":2023.960,"v":1500,"c":"dn"},{"t":2023.999,"v":3500,"c":"up"},{"t":2024.057,"v":1000,"c":"dn"},
      {"t":2024.096,"v":3500,"c":"un"},{"t":2024.135,"v":2000,"c":"dn"},{"t":2024.174,"v":3000,"c":"un"},{"t":2024.213,"v":9000,"c":"dn"},
      {"t":2024.252,"v":3000,"c":"up"},{"t":2024.291,"v":6500,"c":"dn"},{"t":2024.330,"v":3000,"c":"up"}
    ]
  }
}
